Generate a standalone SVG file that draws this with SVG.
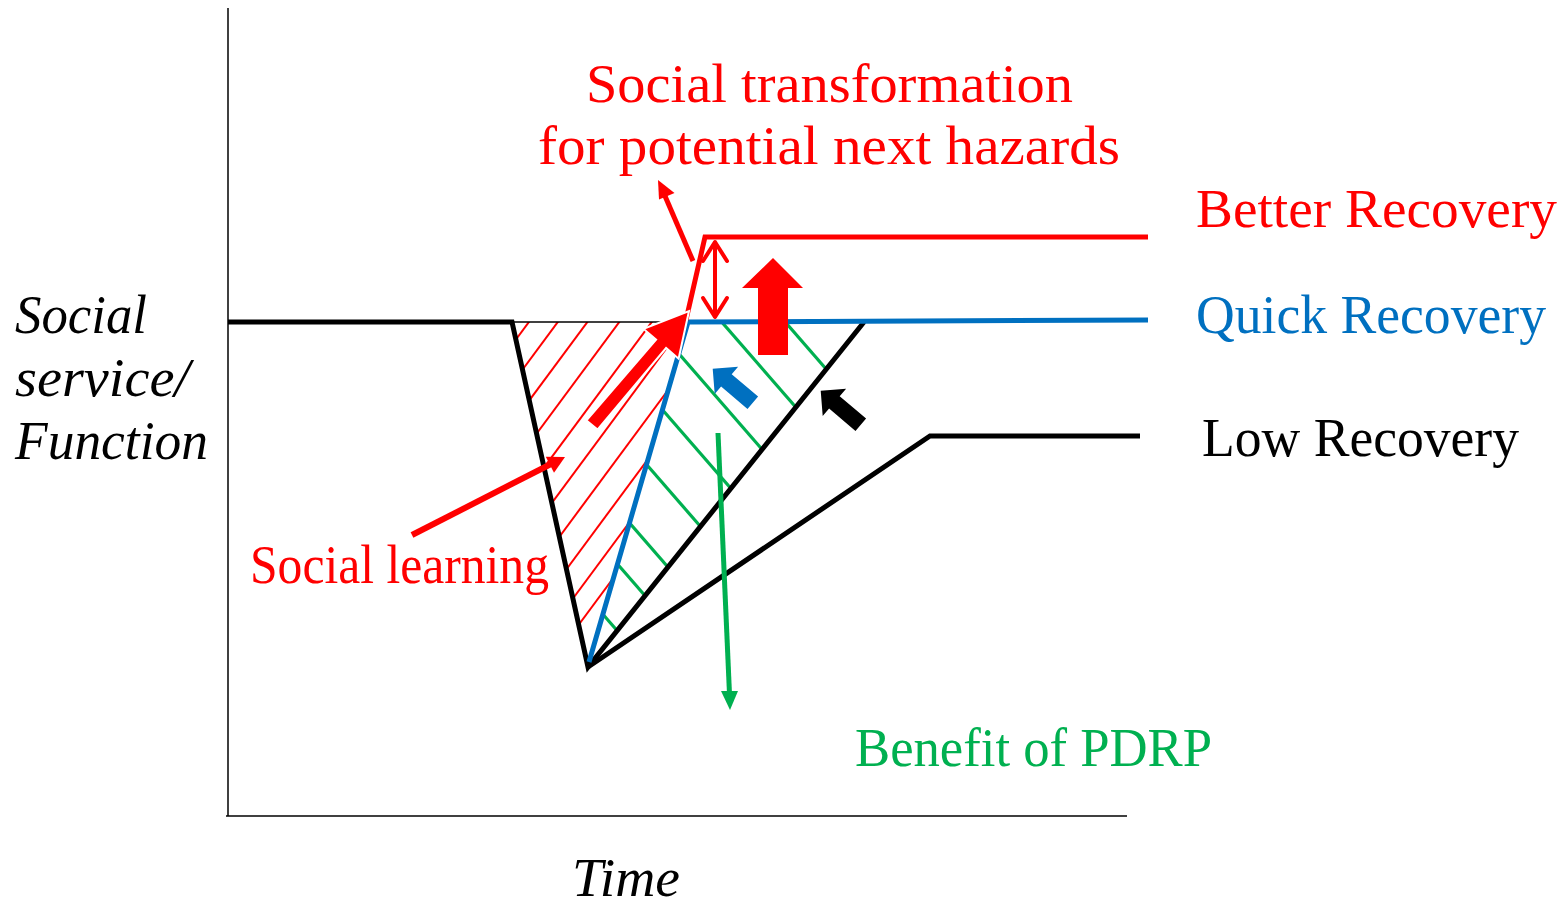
<svg xmlns="http://www.w3.org/2000/svg" width="1564" height="908" viewBox="0 0 1564 908">
<style>
.t{font-family:"Liberation Serif","Times New Roman",serif;font-size:55px}
.it{font-style:italic}
.red{fill:#FF0000}.blue{fill:#0070C0}.blk{fill:#000}.grn{fill:#00B050}
.ax{stroke:#000;stroke-width:1.5;fill:none}
.bk{stroke:#000;stroke-width:5;fill:none;stroke-linejoin:miter}
.hr{stroke:#FF0000;stroke-width:2}
.hg{stroke:#00B050;stroke-width:3.2}
</style>
<defs>
<clipPath id="cr"><polygon points="512,322 688,322 589,662"/></clipPath>
<clipPath id="cg"><polygon points="688,322 864,322 588,667"/></clipPath>
</defs>
<rect width="1564" height="908" fill="#fff"/>

<g id="axes">
<line class="ax" x1="228" y1="8" x2="228" y2="816"/>
<line class="ax" x1="226" y1="816" x2="1127" y2="816"/>
</g>

<g id="hatch-red" clip-path="url(#cr)">
<line class="hr" x1="545.2" y1="300" x2="248.9" y2="700"/>
<line class="hr" x1="574.1" y1="300" x2="277.8" y2="700"/>
<line class="hr" x1="603.7" y1="300" x2="307.4" y2="700"/>
<line class="hr" x1="635.6" y1="300" x2="339.3" y2="700"/>
<line class="hr" x1="668.1" y1="300" x2="371.9" y2="700"/>
<line class="hr" x1="702.2" y1="300" x2="405.9" y2="700"/>
<line class="hr" x1="734.8" y1="300" x2="438.5" y2="700"/>
<line class="hr" x1="765.9" y1="300" x2="469.6" y2="700"/>
<line class="hr" x1="794.1" y1="300" x2="497.8" y2="700"/>
<line class="hr" x1="819.3" y1="300" x2="523.0" y2="700"/>
</g>

<g id="hatch-green" clip-path="url(#cg)">
<line class="hg" x1="766.1" y1="300" x2="1113.9" y2="700"/>
<line class="hg" x1="702.6" y1="300" x2="1050.4" y2="700"/>
<line class="hg" x1="632.2" y1="300" x2="980.0" y2="700"/>
<line class="hg" x1="567.0" y1="300" x2="914.8" y2="700"/>
<line class="hg" x1="503.5" y1="300" x2="851.3" y2="700"/>
<line class="hg" x1="435.7" y1="300" x2="783.5" y2="700"/>
<line class="hg" x1="387.8" y1="300" x2="735.7" y2="700"/>
<line class="hg" x1="329.6" y1="300" x2="677.4" y2="700"/>
</g>

<g id="curves">
<line x1="512" y1="322" x2="688" y2="322" stroke="#000" stroke-width="1.5"/>
<polyline class="bk" points="228,322 512,322 588,667 864,322"/>
<polyline class="bk" points="588,667 930,436 1140,436"/>
<polyline points="589,662 688,322 1148,320" fill="none" stroke="#0070C0" stroke-width="5"/>
<polyline points="686,320 705,237 1148,237" fill="none" stroke="#FF0000" stroke-width="5"/>
</g>

<g id="connectors">
<line x1="693" y1="261" x2="665" y2="196" stroke="#FF0000" stroke-width="5"/>
<polygon points="658,180 659,199.5 674.5,193" fill="#FF0000"/>
<g fill="none" stroke="#FF0000" stroke-width="4" stroke-linecap="round" stroke-linejoin="round">
<line x1="715" y1="243" x2="715" y2="316"/>
<polyline points="703,261 715,242 727,261"/>
<polyline points="703,298 715,317 727,298"/>
</g>
<polygon points="758,355 758,288 742,288 773,258 803,288 788,288 788,355" fill="#FF0000"/>
<polygon points="586.5,420.4 656.1,339.6 643.6,328.9 689,311 678.6,358.7 666.1,348 597.5,429.6" fill="#FF0000" stroke="#fff" stroke-width="2"/>
<polygon points="712.7,368.7 738.1,366.7 731.7,374.2 758.1,396.6 747.5,409 721.1,386.6 714.7,394.1" fill="#0070C0"/>
<polygon points="712.7,368.7 738.1,366.7 731.7,374.2 758.1,396.6 747.5,409 721.1,386.6 714.7,394.1" fill="#000" transform="translate(108,22)"/>
<line x1="412" y1="535" x2="551" y2="464" stroke="#FF0000" stroke-width="6"/>
<polygon points="565,457 545.8,456.7 554,472.7" fill="#FF0000"/>
<line x1="718" y1="433" x2="729.5" y2="694" stroke="#00B050" stroke-width="5"/>
<polygon points="721,691 738,691 730,710" fill="#00B050"/>
</g>

<g id="labels">
<text class="t red" x="586" y="102" textLength="487" lengthAdjust="spacingAndGlyphs">Social transformation</text>
<text class="t red" x="538" y="164" textLength="582" lengthAdjust="spacingAndGlyphs">for potential next hazards</text>
<text class="t red" x="1196" y="227" textLength="361" lengthAdjust="spacingAndGlyphs">Better Recovery</text>
<text class="t blue" x="1196" y="333" textLength="350" lengthAdjust="spacingAndGlyphs">Quick Recovery</text>
<text class="t blk" x="1202" y="456" textLength="317" lengthAdjust="spacingAndGlyphs">Low Recovery</text>
<text class="t red" x="250" y="583" textLength="299" lengthAdjust="spacingAndGlyphs">Social learning</text>
<text class="t grn" x="855" y="766" textLength="357" lengthAdjust="spacingAndGlyphs">Benefit of PDRP</text>
<text class="t it blk" x="15" y="333" textLength="132" lengthAdjust="spacingAndGlyphs">Social</text>
<text class="t it blk" x="15" y="396" textLength="175" lengthAdjust="spacingAndGlyphs">service/</text>
<text class="t it blk" x="15" y="459" textLength="193" lengthAdjust="spacingAndGlyphs">Function</text>
<text class="t it blk" x="572" y="896" textLength="108" lengthAdjust="spacingAndGlyphs">Time</text>
</g>
</svg>
